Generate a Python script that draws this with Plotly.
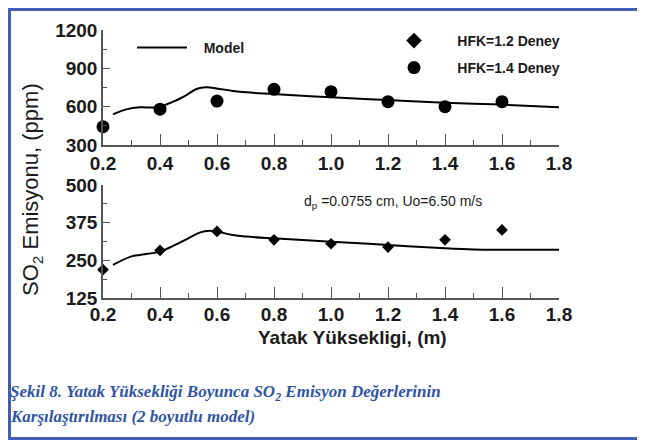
import plotly.graph_objects as go

W, H = 645, 441
OFF = 8  # page body margin of the browser

# ---- data ----
heights = [0.2, 0.4, 0.6, 0.8, 1.0, 1.2, 1.4, 1.6]
hfk14_so2 = [443, 580, 644, 736, 717, 639, 600, 639]      # circles, top panel
hfk12_so2 = [219, 283, 346, 318, 305, 294, 318, 351]      # diamonds, bottom panel

model_top_x = [0.235, 0.282, 0.329, 0.388, 0.446, 0.493, 0.528, 0.563, 0.598, 0.656, 0.703, 0.797, 1.0, 1.2, 1.4, 1.6, 1.8]
model_top_y = [540, 579, 595, 595, 639, 691, 738, 751, 743, 723, 712, 699, 673, 652, 631, 616, 595]

model_bot_x = [0.235, 0.3, 0.33, 0.4, 0.446, 0.499, 0.539, 0.575, 0.598, 0.656, 0.703, 0.797, 1.0, 1.2, 1.4, 1.5, 1.6, 1.8]
model_bot_y = [235, 263, 268, 279, 298, 323, 342, 348, 346, 334, 329, 323, 312, 301, 290, 286, 285, 285]

x_ticks = [0.2, 0.4, 0.6, 0.8, 1.0, 1.2, 1.4, 1.6, 1.8]
top_y_ticks = [300, 600, 900, 1200]
bot_y_ticks = [125, 250, 375, 500]

# ---- helpers (screen pixel -> paper fraction) ----
def px_x(p):
    return (p - OFF) / W

def px_y(p):
    return 1 - (p - OFF) / H

SANS = "Liberation Sans, Arial, sans-serif"
SERIF = "Liberation Serif, Times New Roman, serif"
AX = "#555555"
BLUE = "#2f55a4"
NB = "\u00a0"

fig = go.Figure()

fig.add_trace(go.Scatter(
    x=model_top_x, y=model_top_y, mode="lines", name=NB * 3 + "Model",
    line=dict(color="black", width=2, shape="spline"),
    xaxis="x", yaxis="y", legend="legend"))
fig.add_trace(go.Scatter(
    x=model_bot_x, y=model_bot_y, mode="lines", name="Model", showlegend=False,
    line=dict(color="black", width=2, shape="spline"),
    xaxis="x2", yaxis="y2"))
fig.add_trace(go.Scatter(
    x=heights, y=hfk12_so2, mode="markers", name=NB * 6 + "HFK=1.2 Deney",
    marker=dict(symbol="diamond", size=9, color="black"), cliponaxis=False,
    xaxis="x2", yaxis="y2", legend="legend2"))
fig.add_trace(go.Scatter(
    x=heights, y=hfk14_so2, mode="markers", name=NB * 6 + "HFK=1.4 Deney",
    marker=dict(symbol="circle", size=13, color="black"), cliponaxis=False,
    xaxis="x", yaxis="y", legend="legend3"))

xdom = [px_x(103), px_x(559)]
tickfont = dict(family=SANS, size=19, color="#1a1a1a", weight=700)

def xaxis_cfg(anchor, standoff):
    return dict(domain=xdom, range=[0.2, 1.8], tickvals=x_ticks, tickformat=".1f",
                showline=True, linecolor=AX, linewidth=1.5, ticks="inside",
                ticklen=11, tickwidth=1.2, tickcolor=AX, showgrid=False, zeroline=False,
                minor=dict(dtick=0.1, tick0=0.2, ticks="inside", ticklen=5, tickcolor=AX, tickwidth=1.2, showgrid=False),
                tickfont=tickfont, anchor=anchor, ticklabelstandoff=standoff, automargin=False)

def yaxis_cfg(dom, rng, vals, minor, anchor):
    return dict(domain=dom, range=rng, tickvals=vals, showline=True, linecolor=AX,
                linewidth=1.5, ticks="inside", ticklen=7, tickwidth=1.2, tickcolor=AX,
                showgrid=False, zeroline=False,
                minor=dict(dtick=minor, tick0=rng[0], ticks="inside", ticklen=4, tickcolor=AX, tickwidth=1.2, showgrid=False),
                tickfont=tickfont, anchor=anchor, ticklabelstandoff=0, automargin=False)

legfont = dict(family=SANS, size=14, color="#1a1a1a", weight=700)

fig.update_layout(
    width=W, height=H, margin=dict(l=0, r=0, t=0, b=0, autoexpand=False),
    paper_bgcolor="white", plot_bgcolor="white",
    xaxis=xaxis_cfg("y", 0),
    yaxis=yaxis_cfg([px_y(145), px_y(30)], [300, 1200], top_y_ticks, 150, "x"),
    xaxis2=xaxis_cfg("y2", -2),
    yaxis2=yaxis_cfg([px_y(298), px_y(185)], [125, 500], bot_y_ticks, 62.5, "x2"),
    legend=dict(x=px_x(132), y=px_y(48), xanchor="left", yanchor="middle",
                font=legfont, bgcolor="rgba(0,0,0,0)", itemwidth=50),
    legend2=dict(x=px_x(394), y=px_y(41), xanchor="left", yanchor="middle",
                 font=legfont, bgcolor="rgba(0,0,0,0)", itemsizing="constant"),
    legend3=dict(x=px_x(394), y=px_y(68), xanchor="left", yanchor="middle",
                 font=legfont, bgcolor="rgba(0,0,0,0)", itemsizing="trace"),
    showlegend=True,
)

annotations = [
    dict(text="SO<sub>2</sub> Emisyonu, (ppm)", textangle=-90, x=px_x(32), y=px_y(190),
         xref="paper", yref="paper", showarrow=False, xanchor="center", yanchor="middle",
         font=dict(family=SANS, size=22, color="#1a1a1a")),
    dict(text="Yatak Yüksekligi, (m)", x=px_x(352), y=px_y(337),
         xref="paper", yref="paper", showarrow=False, xanchor="center", yanchor="middle",
         font=dict(family=SANS, size=19, color="#1a1a1a", weight=700)),
    dict(text="d<sub>p</sub> =0.0755 cm, Uo=6.50 m/s", x=px_x(302), y=px_y(202),
         xref="paper", yref="paper", showarrow=False, xanchor="left", yanchor="middle",
         font=dict(family=SANS, size=14, color="#1a1a1a")),
    dict(text="Şekil 8. Yatak Yüksekliği Boyunca SO<sub>2</sub> Emisyon Değerlerinin",
         x=px_x(8), y=px_y(393), xref="paper", yref="paper", showarrow=False,
         xanchor="left", yanchor="middle",
         font=dict(family=SERIF, size=17, color=BLUE, weight=700, style="italic")),
    dict(text="Karşılaştırılması (2 boyutlu model)",
         x=px_x(8), y=px_y(416), xref="paper", yref="paper", showarrow=False,
         xanchor="left", yanchor="middle",
         font=dict(family=SERIF, size=17, color=BLUE, weight=700, style="italic")),
]
fig.update_layout(annotations=annotations)

fig.add_shape(type="rect", xref="paper", yref="paper",
              x0=px_x(9.5), x1=px_x(642.5), y0=px_y(438.5), y1=px_y(9.5),
              line=dict(color="#3f5fb5", width=3), fillcolor="rgba(0,0,0,0)")

fig.write_html("out.html")
